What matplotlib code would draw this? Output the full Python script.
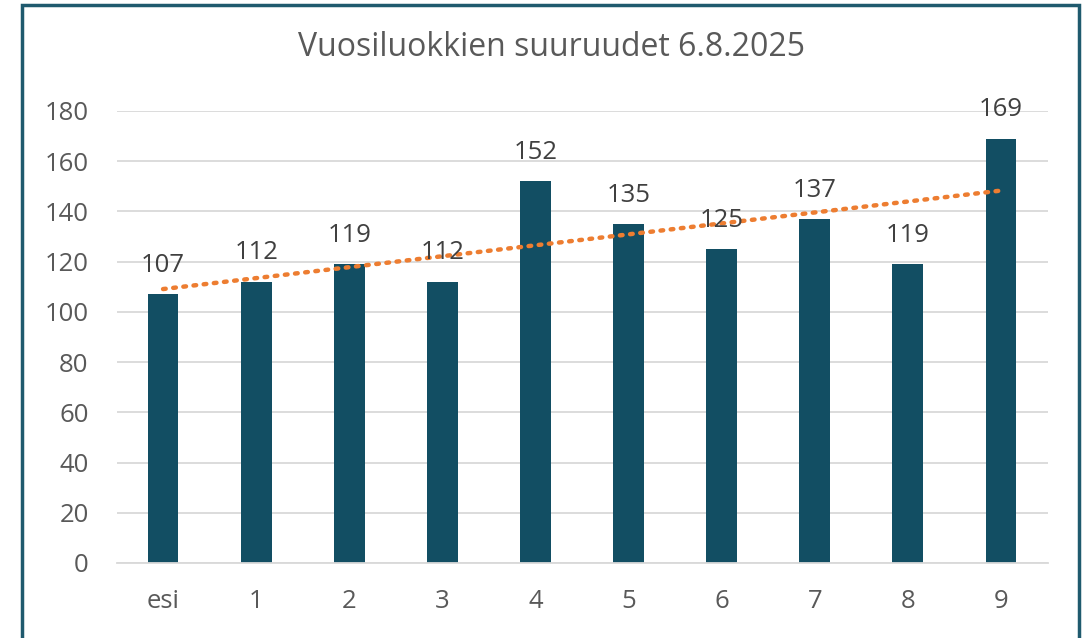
import numpy as np
import matplotlib.pyplot as plt
import matplotlib.patches as mpatches

categories = ['esi', '1', '2', '3', '4', '5', '6', '7', '8', '9']
values = [107, 112, 119, 112, 152, 135, 125, 137, 119, 169]
y_ticks = [0, 20, 40, 60, 80, 100, 120, 140, 160, 180]

plt.rcParams['font.family'] = ['Open Sans', 'DejaVu Sans']

fig = plt.figure(figsize=(10.89, 6.38), dpi=100)
ax = fig.add_axes([116.5 / 1089, 1 - 563 / 638, (1047.5 - 116.5) / 1089, (563 - 111) / 638])

x = np.arange(len(categories))
ax.bar(x, values, width=0.33, color='#124E63', zorder=2)

# linear trendline like Excel
k, b = np.polyfit(x, values, 1)
ax.plot(x, k * x + b, color='#ED7D31', linestyle=(0, (0.6, 1.7)), linewidth=3.2,
        dash_capstyle='round', zorder=3)

for xi, v in zip(x, values):
    ax.text(xi, v + 6.5, str(v), ha='center', va='bottom', fontsize=18.5, color='#404040', zorder=4)

ax.set_xlim(-0.5, len(categories) - 0.5)
ax.set_ylim(0, 180)
ax.set_yticks(y_ticks)
ax.set_xticks(x)
ax.set_xticklabels(categories)
ax.yaxis.grid(True, color='#D9D9D9', linewidth=1.3, zorder=0)
ax.set_axisbelow(True)
for s in ['top', 'right', 'left']:
    ax.spines[s].set_visible(False)
ax.spines['bottom'].set_color('#D9D9D9')
ax.spines['bottom'].set_linewidth(1.3)
ax.tick_params(axis='both', length=0, labelsize=18.5, labelcolor='#595959')
ax.tick_params(axis='x', pad=19)
ax.tick_params(axis='y', pad=20)

fig.text(551 / 1089, 1 - 48 / 638, 'Vuosiluokkien suuruudet 6.8.2025', ha='center', va='center',
         fontsize=23, color='#595959')

border = mpatches.Rectangle((22 / 1089, -0.05), (1079 - 22) / 1089, 1.05 - 5 / 638,
                            transform=fig.transFigure, fill=False, edgecolor='#1F5A6E',
                            linewidth=2.5)
fig.patches.append(border)

fig.savefig('out.png', dpi=100)
